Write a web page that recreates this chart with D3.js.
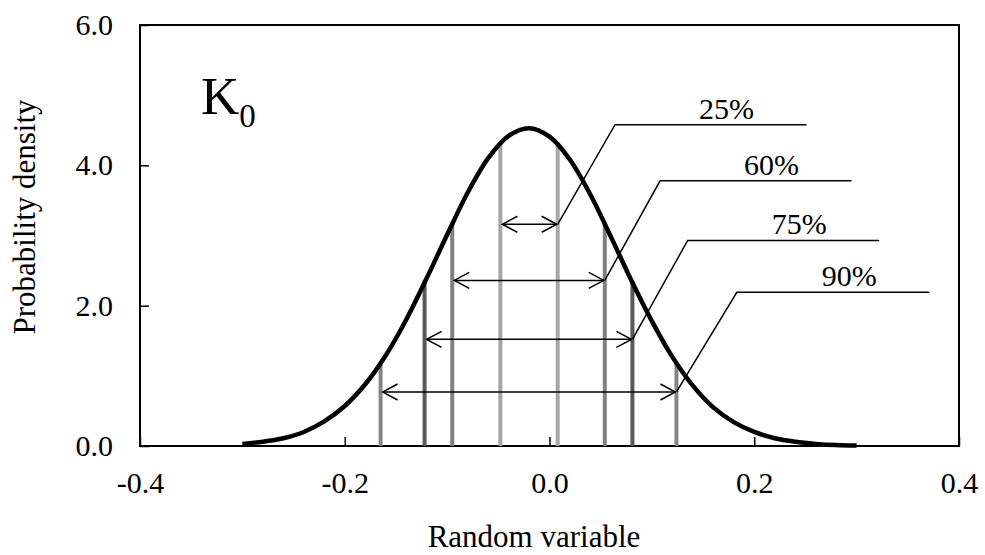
<!DOCTYPE html>
<html>
<head>
<meta charset="utf-8">
<script src="https://cdn.jsdelivr.net/npm/d3@7"></script>
<style>
  body { margin: 0; background: #fff; }
  svg { display: block; }
  text { font-family: "Liberation Serif", "Times New Roman", serif; fill: #000; }
</style>
</head>
<body>
<svg id="chart" width="985" height="555"></svg>
<script>
// density curve
const curve_x = [-0.30, -0.28, -0.26, -0.24, -0.22, -0.20, -0.18, -0.16, -0.14, -0.12, -0.10,
                 -0.08, -0.06, -0.04, -0.02, 0.00, 0.02, 0.04, 0.06, 0.08, 0.10,
                 0.12, 0.14, 0.16, 0.18, 0.20, 0.22, 0.24, 0.26, 0.28, 0.30];
const curve_y = [0.03, 0.06, 0.11, 0.20, 0.35, 0.57, 0.88, 1.29, 1.80, 2.39, 3.01,
                 3.61, 4.10, 4.42, 4.53, 4.41, 4.08, 3.58, 2.98, 2.36, 1.78,
                 1.27, 0.86, 0.55, 0.34, 0.20, 0.11, 0.06, 0.03, 0.013, 0.006];

// confidence intervals
const levels = ["25%", "60%", "75%", "90%"];
const lower = [-0.048, -0.095, -0.122, -0.165];
const upper = [0.008, 0.054, 0.081, 0.124];
const lower_h = [4.33, 3.19, 2.36, 1.20];
const upper_h = [4.33, 3.19, 2.35, 1.19];
const arrow_y = [3.16, 2.36, 1.52, 0.77];
const bar_colors = ["#a6a6a6", "#808080", "#595959", "#858585"];

// leader lines: elbow point and end of the horizontal part
const elbow_x = [0.064, 0.108, 0.135, 0.183];
const elbow_y = [4.58, 3.78, 2.93, 2.19];
const leader_end = [0.251, 0.295, 0.322, 0.371];

const x_ticks = [-0.4, -0.2, 0.0, 0.2, 0.4];
const y_ticks = [0.0, 2.0, 4.0, 6.0];

const svg = d3.select("#chart");
const x = d3.scaleLinear().domain([-0.4, 0.4]).range([140, 959]);
const y = d3.scaleLinear().domain([0, 6]).range([446, 25]);

// axes (ticks pointing inside)
const xAxis = svg.append("g")
    .attr("transform", "translate(0," + y(0) + ")")
    .call(d3.axisBottom(x).tickValues(x_ticks).tickFormat(d3.format(".1f"))
        .tickSizeInner(-9).tickSizeOuter(0).tickPadding(26));
const yAxis = svg.append("g")
    .attr("transform", "translate(" + x(-0.4) + ",0)")
    .call(d3.axisLeft(y).tickValues(y_ticks).tickFormat(d3.format(".1f"))
        .tickSizeInner(-9).tickSizeOuter(0).tickPadding(27));
[xAxis, yAxis].forEach((g) => {
    g.select(".domain").remove();
    g.selectAll(".tick line").attr("stroke", "#000").attr("stroke-width", 1.5);
    g.selectAll(".tick text").style("font-size", "30px")
        .style("font-family", "'Liberation Serif', 'Times New Roman', serif");
});
xAxis.selectAll(".tick text").text((d) => d3.format(".1f")(d).replace("−", "-"));
yAxis.selectAll(".tick text").text((d) => d3.format(".1f")(d).replace("−", "-"));

// frame
svg.append("rect")
    .attr("x", x(-0.4)).attr("y", y(6))
    .attr("width", x(0.4) - x(-0.4)).attr("height", y(0) - y(6))
    .attr("fill", "none").attr("stroke", "#000").attr("stroke-width", 2);

// interval bars
const bars = [];
levels.forEach((l, i) => {
    bars.push({ v: lower[i], h: lower_h[i], c: bar_colors[i] });
    bars.push({ v: upper[i], h: upper_h[i], c: bar_colors[i] });
});
svg.append("g").selectAll("line").data(bars).join("line")
    .attr("x1", (d) => x(d.v)).attr("x2", (d) => x(d.v))
    .attr("y1", y(0)).attr("y2", (d) => y(d.h))
    .attr("stroke", (d) => d.c).attr("stroke-width", 4);

// density curve
const pts = curve_x.map((v, i) => [v, curve_y[i]]);
svg.append("path")
    .datum(pts)
    .attr("d", d3.line().x((d) => x(d[0])).y((d) => y(d[1])).curve(d3.curveCatmullRom))
    .attr("fill", "none").attr("stroke", "#000").attr("stroke-width", 4.5);

// open arrow heads
svg.append("defs").append("marker")
    .attr("id", "head")
    .attr("viewBox", "-17 -10 18 20")
    .attr("refX", 0).attr("refY", 0)
    .attr("markerWidth", 18).attr("markerHeight", 20)
    .attr("markerUnits", "userSpaceOnUse")
    .attr("orient", "auto-start-reverse")
    .append("path")
    .attr("d", "M-15,-8L0,0L-15,8")
    .attr("fill", "none").attr("stroke", "#000").attr("stroke-width", 1.5);

const ann = svg.append("g");
levels.forEach((l, i) => {
    ann.append("line")
        .attr("x1", x(lower[i]) + 2).attr("x2", x(upper[i]) - 1)
        .attr("y1", y(arrow_y[i])).attr("y2", y(arrow_y[i]))
        .attr("stroke", "#000").attr("stroke-width", 1.5)
        .attr("marker-start", "url(#head)").attr("marker-end", "url(#head)");

    const leader = [[upper[i], arrow_y[i]], [elbow_x[i], elbow_y[i]], [leader_end[i], elbow_y[i]]];
    ann.append("path")
        .attr("d", d3.line().x((d) => x(d[0])).y((d) => y(d[1]))(leader))
        .attr("fill", "none").attr("stroke", "#000").attr("stroke-width", 1.5);

    ann.append("text")
        .attr("x", x(leader_end[i]) - 80)
        .attr("y", y(elbow_y[i]) - 6)
        .attr("text-anchor", "middle")
        .style("font-size", "30px")
        .text(l);
});

// K0 label
const k = svg.append("text").attr("x", 201).attr("y", 114).style("font-size", "53px");
k.append("tspan").text("K");
k.append("tspan").attr("dy", 13).style("font-size", "33px").text("0");

// axis titles
svg.append("text")
    .attr("x", 534).attr("y", 547)
    .attr("text-anchor", "middle")
    .style("font-size", "31px")
    .text("Random variable");
svg.append("text")
    .attr("transform", "translate(35,217) rotate(-90)")
    .attr("text-anchor", "middle")
    .style("font-size", "31px")
    .text("Probability density");
</script>
</body>
</html>
